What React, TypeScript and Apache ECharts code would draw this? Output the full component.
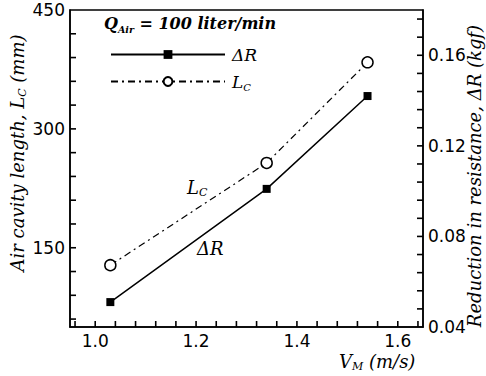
import React, { useEffect, useRef } from "react";
import * as echarts from "echarts";

const velocity = [1.03, 1.34, 1.54];
const cavityLength = [128, 257, 384];
const resistanceReduction = [0.051, 0.101, 0.142];

const xLabels = [1.0, 1.2, 1.4, 1.6];
const xTicks = [0.96, 1.0, 1.04, 1.08, 1.12, 1.16, 1.2, 1.24, 1.28, 1.32, 1.36, 1.4, 1.44, 1.48, 1.52, 1.56, 1.6, 1.64];
const leftLabels = [150, 300, 450];
const leftTicks = [60, 90, 120, 150, 180, 210, 240, 270, 300, 330, 360, 390, 420];
const rightLabels = [0.04, 0.08, 0.12, 0.16];
const rightTicks = [0.048, 0.056, 0.064, 0.072, 0.08, 0.088, 0.096, 0.104, 0.112, 0.12, 0.128, 0.136, 0.144, 0.152, 0.16, 0.168, 0.176];

const X_MIN = 0.95;
const X_MAX = 1.65;
const L_MIN = 50;
const L_MAX = 450;
const R_MIN = 0.04;
const R_MAX = 0.18;

const SERIF = "'DejaVu Serif', 'Liberation Serif', serif";
const NUM = "'DejaVu Sans', sans-serif";

export default function App() {
  const ref = useRef<HTMLDivElement>(null);
  useEffect(() => {
    if (!ref.current) return;
    const chart = echarts.init(ref.current, null, { renderer: "svg" });
    const rich = {
      i: { fontFamily: SERIF, fontStyle: "italic", fontSize: 17, lineHeight: 22, color: "#000" },
      s: { fontFamily: SERIF, fontStyle: "italic", fontSize: 10, lineHeight: 11, verticalAlign: "bottom", color: "#000" },
      t: { fontFamily: SERIF, fontStyle: "italic", fontSize: 18, lineHeight: 22, color: "#000" },
      ts: { fontFamily: SERIF, fontStyle: "italic", fontSize: 11, lineHeight: 11, verticalAlign: "bottom", color: "#000" },
      b: { fontFamily: SERIF, fontStyle: "italic", fontWeight: "bold", fontSize: 16, lineHeight: 22, color: "#000" },
      bs: { fontFamily: SERIF, fontStyle: "italic", fontWeight: "bold", fontSize: 9.5, lineHeight: 11, verticalAlign: "bottom", color: "#000" },
    };
    const axisLabelBase = { color: "#000", fontFamily: NUM, fontSize: 17 };
    const tickScatter = (kind: "x" | "left" | "right", values: number[]) => ({
      type: "scatter",
      name: "ticks-" + kind,
      yAxisIndex: kind === "right" ? 1 : 0,
      silent: true,
      clip: false,
      z: 6,
      symbol: "rect",
      symbolSize: kind === "x" ? [1.6, 6] : [6, 1.6],
      symbolOffset: kind === "x" ? [0, -3] : kind === "left" ? [3, 0] : [-3, 0],
      itemStyle: { color: "#000", opacity: 1 },
      data: values.map((v) => (kind === "x" ? [v, L_MIN] : kind === "left" ? [X_MIN, v] : [X_MAX, v])),
    });
    chart.setOption({
      animation: false,
      backgroundColor: "#fff",
      grid: { left: 70, right: 63, top: 10, bottom: 49, show: true, borderColor: "#000", borderWidth: 1.5 },
      legend: {
        left: 105,
        top: 41,
        orient: "vertical",
        itemWidth: 114,
        itemHeight: 11,
        itemGap: 10,
        data: ["ΔR", "L_C"],
        formatter: (name: string) => (name === "L_C" ? "{i|L}{s|C}" : "{i|ΔR}"),
        textStyle: { rich, color: "#000", padding: [0, 0, 0, 2] },
      },
      xAxis: {
        type: "value",
        min: X_MIN,
        max: X_MAX,
        axisLine: { show: true, lineStyle: { color: "#000", width: 1.5 } },
        axisTick: { show: false },
        axisLabel: { ...axisLabelBase, margin: 5, customValues: xLabels, formatter: (v: number) => v.toFixed(1) },
        splitLine: { show: false },
      },
      yAxis: [
        {
          type: "value",
          min: L_MIN,
          max: L_MAX,
          position: "left",
          axisLine: { show: true, lineStyle: { color: "#000", width: 1.5 } },
          axisTick: { show: false },
          axisLabel: { ...axisLabelBase, margin: 5, customValues: leftLabels },
          splitLine: { show: false },
        },
        {
          type: "value",
          min: R_MIN,
          max: R_MAX,
          position: "right",
          axisLine: { show: true, lineStyle: { color: "#000", width: 1.5 } },
          axisTick: { show: false },
          axisLabel: { ...axisLabelBase, margin: 5, customValues: rightLabels, formatter: (v: number) => v.toFixed(2) },
          splitLine: { show: false },
        },
      ],
      series: [
        {
          name: "ΔR",
          type: "line",
          yAxisIndex: 1,
          data: velocity.map((v, i) => [v, resistanceReduction[i]]),
          symbol: "rect",
          symbolSize: 8,
          itemStyle: { color: "#000" },
          lineStyle: { color: "#000", width: 1.5, type: "solid" },
          z: 3,
        },
        {
          name: "L_C",
          type: "line",
          yAxisIndex: 0,
          data: velocity.map((v, i) => [v, cavityLength[i]]),
          symbol: "circle",
          symbolSize: 11,
          itemStyle: { color: "#fff", borderColor: "#000", borderWidth: 1.5 },
          lineStyle: { color: "#000", width: 1.2, type: [7, 4, 2, 4] },
          z: 3,
        },
        tickScatter("x", xTicks),
        tickScatter("left", leftTicks),
        tickScatter("right", rightTicks),
      ],
      graphic: [
        { type: "text", left: 104, top: 15, style: { text: "{b|Q}{bs|Air}{b| = 100 liter/min}", rich } },
        { type: "text", x: 187, y: 176, style: { text: "{t|L}{ts|C}", rich } },
        { type: "text", x: 197, y: 237, style: { text: "{t|ΔR}", rich } },
        { type: "text", x: 339, y: 350, style: { text: "{t|V}{ts|M}{t| (m/s)}", rich } },
        {
          type: "text",
          x: 17,
          y: 153,
          rotation: Math.PI / 2,
          style: { text: "{t|Air cavity length, L}{ts|C}{t| (mm)}", rich, align: "center", verticalAlign: "middle" },
        },
        {
          type: "text",
          x: 474,
          y: 176,
          rotation: Math.PI / 2,
          style: { text: "{t|Reduction in resistance, ΔR (kgf)}", rich, align: "center", verticalAlign: "middle" },
        },
      ],
    });
    return () => chart.dispose();
  }, []);
  return <div ref={ref} style={{ position: "fixed", left: 0, top: 0, width: 486, height: 376, background: "#fff" }} />;
}
